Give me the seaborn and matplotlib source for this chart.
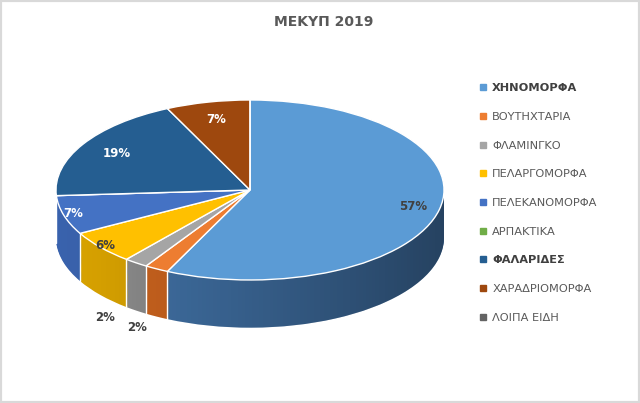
import matplotlib
matplotlib.use('Agg')
import matplotlib.pyplot as plt
import seaborn as sns
import numpy as np
from matplotlib.lines import Line2D
from matplotlib.patches import Rectangle, Polygon

# data (percent of birds counted, MEKYP 2019)
categories = ['ΧΗΝΟΜΟΡΦΑ', 'ΒΟΥΤΗΧΤΑΡΙΑ', 'ΦΛΑΜΙΝΓΚΟ', 'ΠΕΛΑΡΓΟΜΟΡΦΑ',
              'ΠΕΛΕΚΑΝΟΜΟΡΦΑ', 'ΑΡΠΑΚΤΙΚΑ', 'ΦΑΛΑΡΙΔΕΣ', 'ΧΑΡΑΔΡΙΟΜΟΡΦΑ',
              'ΛΟΙΠΑ ΕΙΔΗ']
shares = [57, 2, 2, 6, 7, 0, 19, 7, 0]
bold_legend = ['ΧΗΝΟΜΟΡΦΑ', 'ΦΑΛΑΡΙΔΕΣ']

top_colors = ['#5B9BD5', '#ED7D31', '#A5A5A5', '#FFC000', '#4472C4',
              '#70AD47', '#255E91', '#9E480E', '#636363']
side_colors = ['#4273A8', '#D0661F', '#8E8E8E', '#DCA500', '#3A63AE',
               '#5C9139', '#1E4C77', '#823A0B', '#505050']

# label placement per slice: radius factor on the top face, text colour,
# and for the small slices an offset (points) from the bottom of the rim
label_r = [0.86, 0, 0, 0.97, 0.95, 0, 0.8, 0.8, 0]
label_col = ['#404040', '#404040', '#404040', '#404040', 'white',
             'white', 'white', 'white', 'white']
label_below = [None, (-14, -8), (-22, -5), None, None, None, None, None, None]

sns.set_theme(style='white')
plt.rcParams['font.family'] = ['DejaVu Sans']

W, H = 640, 403
fig = plt.figure(figsize=(W / 100, H / 100), dpi=100)
ax = fig.add_axes([40 / W, 1 - 340 / H, 420 / W, 250 / H])

depth = 0.53

# side wall: stack of pies shifted downward
for d in np.linspace(depth, 0.005, 45):
    ax.pie(shares, colors=side_colors, startangle=90, counterclock=False,
           center=(0, -d), wedgeprops=dict(linewidth=0))

# shading across the wall (lighter left, darker right)
t = np.linspace(np.pi, 2 * np.pi, 200)
rim = np.column_stack([np.concatenate([np.cos(t), np.cos(t[::-1])]),
                       np.concatenate([np.sin(t), np.sin(t[::-1]) - depth])])
clip = Polygon(rim, closed=True, transform=ax.transData, facecolor='none', edgecolor='none')
ax.add_patch(clip)
grad = np.zeros((2, 256, 4))
grad[..., 3] = np.linspace(0.0, 0.5, 256) ** 1.2
img = ax.imshow(grad, extent=(-1.05, 1.05, -depth - 1.05, 0.2), aspect='auto',
                zorder=1.5, interpolation='bilinear')
img.set_clip_path(clip)

# top face
wedges, _ = ax.pie(shares, colors=top_colors, startangle=90, counterclock=False,
                   wedgeprops=dict(edgecolor='white', linewidth=1))
for w in wedges:
    w.set_zorder(2)

# white seams down the wall at slice boundaries in front
seams = set()
for w, s in zip(wedges, shares):
    if s > 0:
        seams.update([round(w.theta1, 3) % 360, round(w.theta2, 3) % 360])
for a in seams:
    r = np.deg2rad(a)
    if np.sin(r) < -0.05:
        ax.plot([np.cos(r), np.cos(r)], [np.sin(r), np.sin(r) - depth],
                color='white', lw=1, zorder=1.8)

# percentage labels
for w, s, rf, c, below in zip(wedges, shares, label_r, label_col, label_below):
    if s == 0:
        continue
    mid = np.deg2rad((w.theta1 + w.theta2) / 2)
    if below is None:
        ax.text(rf * np.cos(mid), rf * np.sin(mid), f'{s}%', ha='center',
                va='center', fontsize=8.5, fontweight='bold', color=c, zorder=3)
    else:
        ax.annotate(f'{s}%', (np.cos(mid), np.sin(mid) - depth),
                    xytext=below, textcoords='offset points', ha='center',
                    va='center', fontsize=8.5, fontweight='bold', color=c,
                    zorder=3)

ax.set_aspect('auto')
ax.set_xlim(-1.0825, 1.0825)
ax.set_ylim(-1.667, 1.111)
ax.axis('off')

fig.suptitle('ΜΕΚΥΠ 2019', x=0.505, y=1 - 22 / H, va='center', fontsize=10,
             fontweight='bold', color='#595959')

handles = [Line2D([], [], marker='s', linestyle='none', markersize=4,
                  color=c) for c in top_colors]
leg = fig.legend(handles, categories, loc='center left',
                 bbox_to_anchor=(474 / W, 1 - 203 / H), frameon=False,
                 fontsize=8.2, handlelength=0.6, handletextpad=0.5,
                 labelspacing=1.64, borderpad=0)
for txt in leg.get_texts():
    txt.set_color('#595959')
    if txt.get_text() in bold_legend:
        txt.set_fontweight('bold')
        txt.set_color('#404040')

fig.patches.append(Rectangle((0, 0), 1, 1, transform=fig.transFigure,
                             fill=False, edgecolor='#d9d9d9', lw=3))

fig.savefig('out.png', dpi=100)
